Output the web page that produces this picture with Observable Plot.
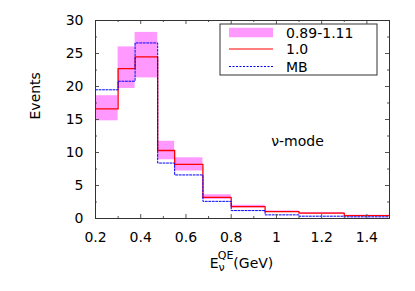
<!DOCTYPE html>
<html><head><meta charset="utf-8">
<script src="https://cdn.jsdelivr.net/npm/d3@7"></script>
<script src="https://cdn.jsdelivr.net/npm/@observablehq/plot@0.6"></script>
<style>body{margin:0;background:#fff}</style>
</head><body><div id="chart"></div>
<script>
// Data
const edges   = [0.2, 0.3, 0.375, 0.475, 0.55, 0.675, 0.8, 0.95, 1.1, 1.3, 1.5];
const central = [16.6, 22.7, 24.5, 10.3, 8.2, 3.2, 1.8, 1.05, 0.8, 0.45];
const bandLo  = [14.8, 19.7, 21.3, 8.9, 7.2, 2.9, 1.6, 0.95, 0.72, 0.4];
const bandHi  = [18.6, 26.0, 28.2, 11.7, 9.2, 3.6, 2.0, 1.15, 0.9, 0.5];
const mb      = [19.5, 20.8, 26.6, 8.4, 6.6, 2.6, 1.2, 0.55, 0.35, 0.25];
const xMajor  = [0.2, 0.4, 0.6, 0.8, 1.0, 1.2, 1.4];
const xMinor  = [0.3, 0.5, 0.7, 0.9, 1.1, 1.3, 1.5];
const yMajor  = [0, 5, 10, 15, 20, 25, 30];
const yMinor  = [2.5, 7.5, 12.5, 17.5, 22.5, 27.5];
const legendLabels = ["0.89-1.11", "1.0", "MB"];
const modeLabel = "ν-mode";

const W = 415, H = 291, mL = 95, mR = 26, mT = 20, mB = 73;
const innerW = W - mL - mR, innerH = H - mT - mB;
const FONT = "'DejaVu Sans', 'Liberation Sans', Arial, sans-serif";

const bins = central.map((c, i) => ({x1: edges[i], x2: edges[i + 1], lo: bandLo[i], hi: bandHi[i]}));
const stepPts = vals => edges.map((e, i) => ({x: e, y: vals[Math.min(i, vals.length - 1)]}));
const majorLen = 4, minorLen = 2, tickColor = "#555";

function legendMark(index, scales, values, dims) {
  const g = d3.create("svg:g").attr("font-family", FONT).attr("font-size", 14).attr("text-anchor", "start");
  const bw = 157, bh = 51;
  const bx = dims.width - dims.marginRight - 12 - bw;
  const by = dims.marginTop + 4;
  g.append("rect").attr("x", bx).attr("y", by).attr("width", bw).attr("height", bh)
    .attr("fill", "#fff").attr("stroke", "#333").attr("stroke-width", 1);
  const rows = [8.5, 25, 42.5];
  const sx1 = bx + 9, sx2 = bx + 53, tx = bx + 66;
  g.append("rect").attr("x", sx1).attr("y", by + rows[0] - 4.75).attr("width", sx2 - sx1).attr("height", 9.5).attr("fill", "#ff99ff");
  g.append("line").attr("x1", sx1).attr("x2", sx2).attr("y1", by + rows[1]).attr("y2", by + rows[1]).attr("stroke", "#ff0000").attr("stroke-width", 1.2);
  g.append("line").attr("x1", sx1).attr("x2", sx2).attr("y1", by + rows[2]).attr("y2", by + rows[2]).attr("stroke", "#0000ff").attr("stroke-width", 1).attr("stroke-dasharray", "2,1.5");
  legendLabels.forEach((t, i) => {
    g.append("text").attr("x", tx).attr("y", by + rows[i] + 5).attr("fill", "#000").attr("text-anchor", "start").text(t);
  });
  return g.node();
}

function xLabelMark(index, scales, values, dims) {
  const cx = dims.marginLeft + (dims.width - dims.marginLeft - dims.marginRight) / 2 - 0.5;
  const t = d3.create("svg:text").attr("font-family", FONT).attr("font-size", 14).attr("fill", "#000")
    .attr("text-anchor", "middle").attr("x", cx).attr("y", dims.height - dims.marginBottom + 49.5);
  t.append("tspan").text("E");
  t.append("tspan").attr("font-size", 11).attr("dy", 3).text("ν");
  t.append("tspan").attr("font-size", 11).attr("dx", -7).attr("dy", -12).text("QE");
  t.append("tspan").attr("dy", 9).text("(GeV)");
  return t.node();
}

const chart = Plot.plot({
  width: W, height: H, marginLeft: mL, marginRight: mR, marginTop: mT, marginBottom: mB,
  style: {fontFamily: FONT, fontSize: "14px", color: "#000", background: "#fff", overflow: "visible"},
  x: {domain: [0.2, 1.5], label: null},
  y: {domain: [0, 30], label: null},
  marks: [
    Plot.rect(bins, {x1: "x1", x2: "x2", y1: "lo", y2: "hi", fill: "#ff99ff"}),
    Plot.line(stepPts(central), {x: "x", y: "y", curve: "step-after", stroke: "#ff0000", strokeWidth: 1.3}),
    Plot.line(stepPts(mb), {x: "x", y: "y", curve: "step-after", stroke: "#0000ff", strokeWidth: 1, strokeDasharray: "2,1.5"}),
    // inward ticks: bottom, top, left, right
    Plot.ruleX(xMajor, {x: d => d, insetTop: innerH - majorLen, stroke: tickColor}),
    Plot.ruleX(xMinor, {x: d => d, insetTop: innerH - minorLen, stroke: tickColor}),
    Plot.ruleX(xMajor, {x: d => d, insetBottom: innerH - majorLen, stroke: tickColor}),
    Plot.ruleX(xMinor, {x: d => d, insetBottom: innerH - minorLen, stroke: tickColor}),
    Plot.ruleY(yMajor, {y: d => d, insetRight: innerW - majorLen, stroke: tickColor}),
    Plot.ruleY(yMinor, {y: d => d, insetRight: innerW - minorLen, stroke: tickColor}),
    Plot.ruleY(yMajor, {y: d => d, insetLeft: innerW - majorLen, stroke: tickColor}),
    Plot.ruleY(yMinor, {y: d => d, insetLeft: innerW - minorLen, stroke: tickColor}),
    Plot.frame({stroke: "#333"}),
    Plot.axisX({ticks: xMajor, tickSize: 0, tickPadding: 14, tickFormat: d => String(+d.toFixed(1)), fontSize: 14, label: null}),
    Plot.axisY({ticks: yMajor, tickSize: 0, tickPadding: 12, fontSize: 14, label: null}),
    Plot.text(["Events"], {frameAnchor: "left", dx: -60, rotate: -90, text: d => d, fontSize: 14, fill: "#000"}),
    Plot.text([modeLabel], {x: 0.977, y: 11.65, text: d => d, textAnchor: "start", fontSize: 14, fill: "#000"}),
    legendMark,
    xLabelMark
  ]
});
document.getElementById("chart").appendChild(chart);
</script>
</body></html>
